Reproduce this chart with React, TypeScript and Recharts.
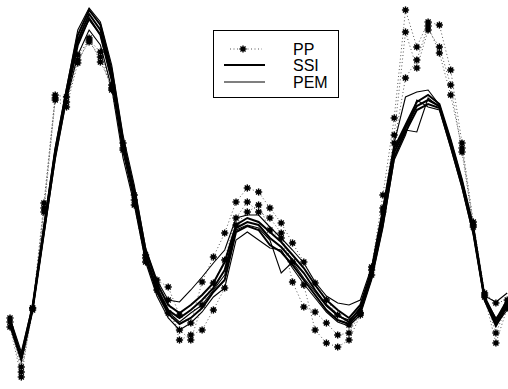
import { Line, LineChart, XAxis, YAxis } from "recharts";

// sample index along the structure (45 measurement points)
const POINTS = Array.from({ length: 45 }, (_, i) => i);

// mode shape amplitudes (arbitrary units)
const PP1 = [-118, -167, -108, -3, 105, 103, 145, 160, 148, 112, 57, 5, -55, -80, -87, -115, -123, -82, -57, -33, -2, 12, 8, -8, -23, -43, -62, -83, -100, -115, -125, -113, -67, 5, 82, 190, 153, 178, 175, 130, 57, -22, -93, -103, -100];
const PP2 = [-127, -177, -108, -12, 100, 93, 137, 162, 138, 115, 52, 0, -58, -85, -113, -130, -140, -105, -83, -60, -18, -2, -12, -18, -33, -82, -107, -112, -123, -135, -133, -113, -70, -8, 65, 168, 132, 170, 153, 115, 48, -27, -95, -133, -105];
const PP3 = [-122, -172, -110, -8, 102, 98, 140, 158, 143, 110, 50, -5, -62, -90, -100, -140, -135, -130, -110, -88, -25, -12, -5, -30, -38, -62, -85, -130, -143, -147, -140, -115, -75, -12, 57, 122, 140, 174, 147, 105, 52, -25, -97, -143, -108];

const SSI1 = [-120, -156, -106, -28, 50, 110, 165, 190, 175, 130, 60, 10, -50, -83, -105, -113, -105, -95, -83, -62, -25, -18, -22, -32, -42, -55, -68, -85, -100, -110, -118, -105, -70, -12, 52, 75, 98, 105, 96, 60, 20, -27, -97, -120, -100];
const SSI2 = [-122, -158, -108, -30, 47, 107, 160, 186, 170, 125, 55, 5, -55, -88, -110, -118, -110, -100, -88, -70, -28, -22, -25, -38, -47, -60, -73, -90, -105, -115, -122, -108, -73, -17, 48, 72, 94, 100, 94, 57, 17, -30, -99, -123, -103];
const SSI3 = [-125, -160, -110, -33, 44, 103, 155, 182, 165, 120, 50, 0, -58, -92, -114, -124, -118, -108, -92, -80, -32, -26, -30, -45, -52, -65, -80, -95, -110, -120, -124, -112, -77, -24, 43, 68, 90, 96, 92, 54, 14, -33, -100, -126, -106];

const PEM1 = [-118, -152, -105, -25, 52, 112, 170, 192, 178, 135, 65, 15, -48, -80, -100, -102, -90, -77, -63, -50, -18, -15, -15, -27, -38, -50, -63, -82, -96, -103, -105, -100, -67, -7, 57, 103, 108, 110, 95, 60, 20, -26, -96, -102, -93];
const PEM2 = [-123, -157, -109, -30, 45, 105, 158, 180, 165, 120, 50, 2, -56, -90, -112, -122, -113, -105, -90, -75, -30, -25, -28, -40, -73, -62, -78, -92, -106, -116, -120, -110, -75, -20, 47, 70, 68, 102, 93, 56, 16, -31, -98, -118, -105];
const PEM3 = [-126, -160, -111, -35, 40, 100, 145, 170, 155, 112, 42, -5, -62, -96, -118, -130, -123, -112, -97, -88, -40, -32, -40, -48, -50, -68, -84, -98, -112, -122, -126, -115, -80, -28, 40, 65, 100, 93, 90, 52, 12, -35, -101, -125, -110];

const LEGEND = ["PP", "SSI", "PEM"];

const data = POINTS.map((i) => ({
  i,
  pp1: PP1[i],
  pp2: PP2[i],
  pp3: PP3[i],
  ssi1: SSI1[i],
  ssi2: SSI2[i],
  ssi3: SSI3[i],
  pem1: PEM1[i],
  pem2: PEM2[i],
  pem3: PEM3[i],
}));

function Star({ cx, cy }: { cx?: number; cy?: number }) {
  if (cx == null || cy == null) return <g />;
  const r = 3.6;
  const d = r * 0.707;
  return (
    <g stroke="#000" strokeWidth={1.4}>
      <line x1={cx - r} y1={cy} x2={cx + r} y2={cy} />
      <line x1={cx} y1={cy - r} x2={cx} y2={cy + r} />
      <line x1={cx - d} y1={cy - d} x2={cx + d} y2={cy + d} />
      <line x1={cx - d} y1={cy + d} x2={cx + d} y2={cy - d} />
      <circle cx={cx} cy={cy} r={1.6} fill="#000" />
    </g>
  );
}

const starDot = (p: any) => <Star key={`s-${p.dataKey}-${p.index}`} cx={p.cx} cy={p.cy} />;

function LegendBox() {
  return (
    <div
      style={{
        position: "absolute",
        left: 213,
        top: 30,
        width: 124,
        height: 66,
        border: "1px solid #000",
        background: "#fff",
      }}
    >
      <svg width={124} height={66}>
        <line x1={16} y1={18} x2={48} y2={18} stroke="#555" strokeWidth={1} strokeDasharray="1 2.5" />
        <Star cx={29} cy={18} />
        <line x1={10} y1={34} x2={51} y2={34} stroke="#000" strokeWidth={2} />
        <line x1={10} y1={51} x2={51} y2={51} stroke="#000" strokeWidth={1.1} />
        {LEGEND.map((t, k) => (
          <text
            key={t}
            x={79}
            y={18 + k * 16.5}
            dominantBaseline="central"
            fontFamily="Liberation Sans, Arial, sans-serif"
            fontSize={16}
            fill="#000"
          >
            {t}
          </text>
        ))}
      </svg>
    </div>
  );
}

export default function App() {
  return (
    <div style={{ position: "absolute", left: 0, top: 0, width: 508, height: 389, background: "#fff" }}>
      <LineChart width={508} height={389} data={data} margin={{ top: 0, right: 0, bottom: 0, left: 0 }}>
        <XAxis type="number" dataKey="i" domain={[-0.885, 44.07]} hide allowDataOverflow />
        <YAxis type="number" domain={[-189, 200]} hide allowDataOverflow />
        {["pp1", "pp2", "pp3"].map((k) => (
          <Line
            key={k}
            dataKey={k}
            type="linear"
            stroke="#555"
            strokeWidth={1}
            strokeDasharray="1 2.5"
            dot={starDot}
            activeDot={false}
            isAnimationActive={false}
          />
        ))}
        {["pem1", "pem2", "pem3"].map((k) => (
          <Line
            key={k}
            dataKey={k}
            type="linear"
            stroke="#000"
            strokeWidth={1.1}
            dot={false}
            activeDot={false}
            isAnimationActive={false}
          />
        ))}
        {["ssi1", "ssi2", "ssi3"].map((k) => (
          <Line
            key={k}
            dataKey={k}
            type="linear"
            stroke="#000"
            strokeWidth={2}
            dot={false}
            activeDot={false}
            isAnimationActive={false}
          />
        ))}
      </LineChart>
      <LegendBox />
    </div>
  );
}
